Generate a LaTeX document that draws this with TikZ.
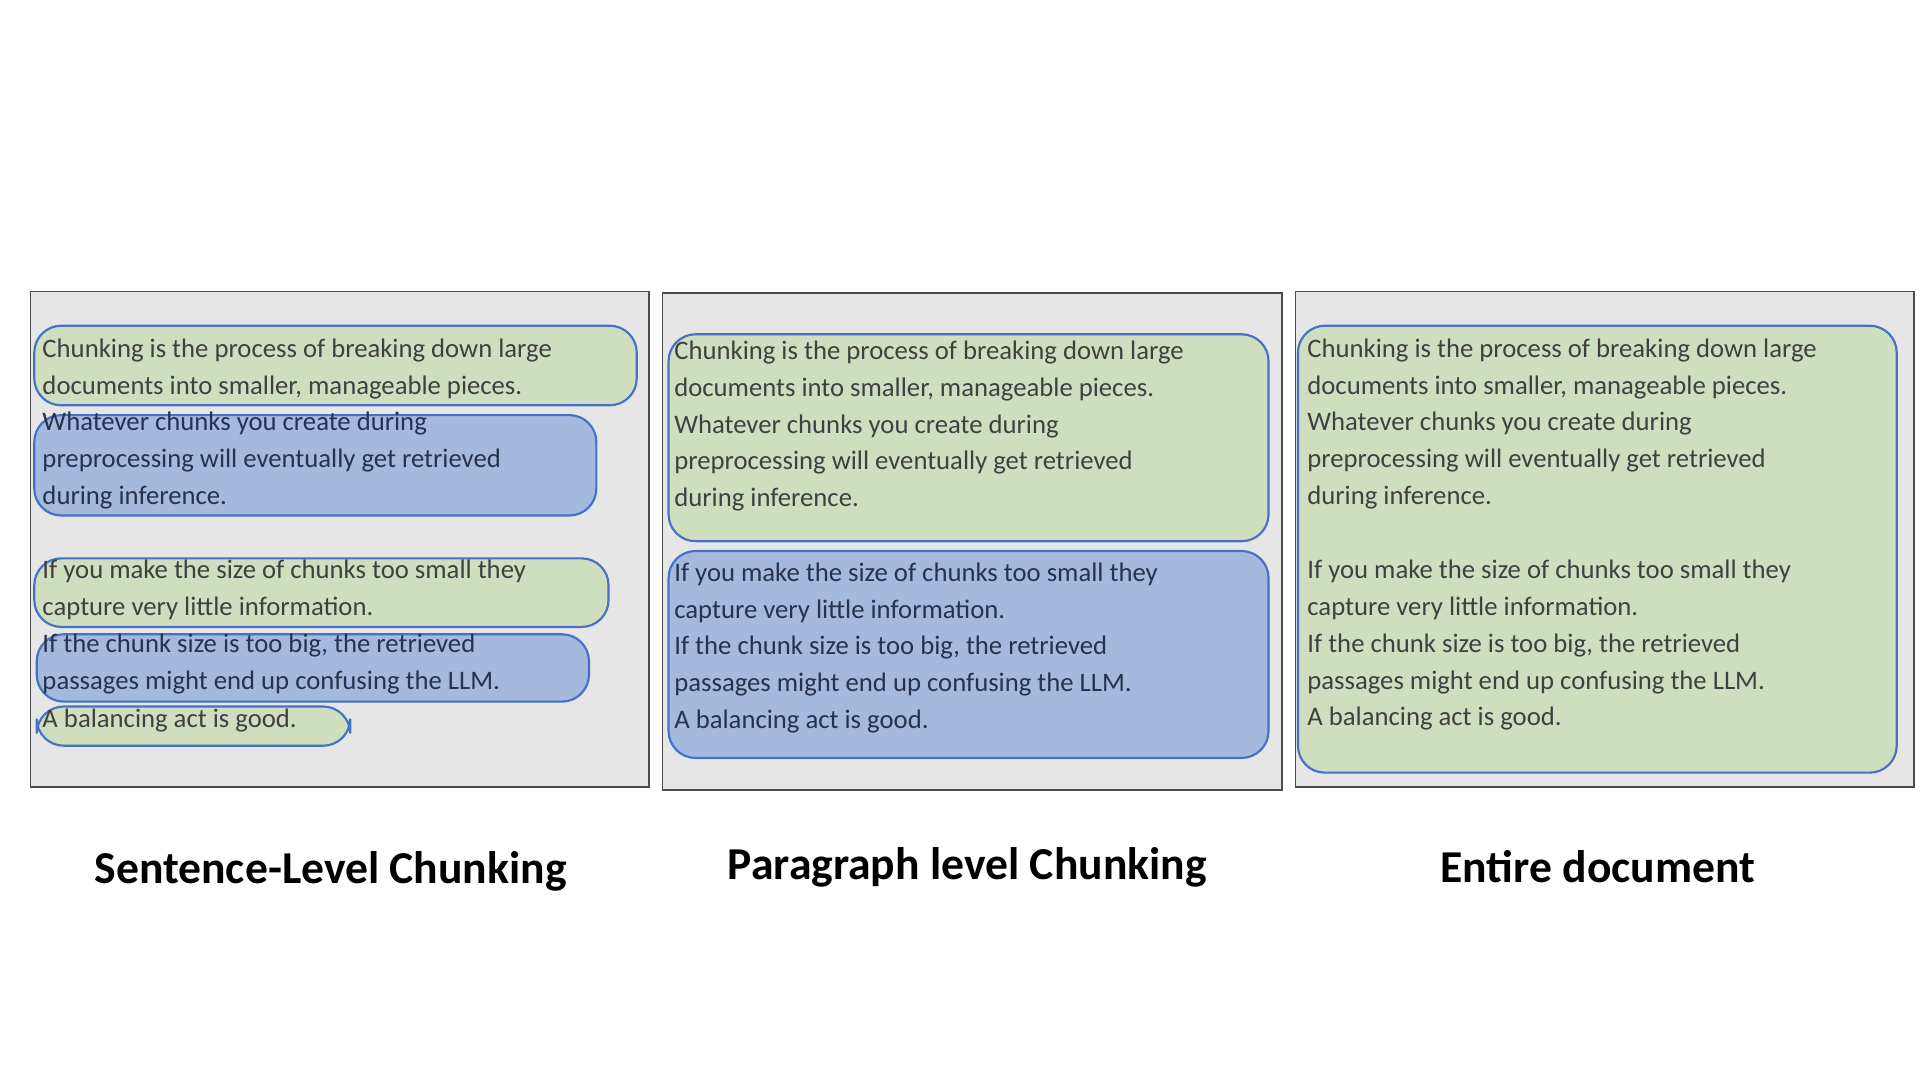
\documentclass[tikz,border=0pt]{standalone}
\usepackage{fontspec}
\setmainfont{Carlito}
\definecolor{bggray}{HTML}{E7E6E6}
\definecolor{gfill}{HTML}{D0DEC0}
\definecolor{bfill}{HTML}{A5B8DD}
\definecolor{bline}{HTML}{4472C4}
\definecolor{txt}{HTML}{404040}
\definecolor{btxt}{HTML}{26324F}
\begin{document}
\begin{tikzpicture}[x=0.01cm,y=-0.01cm,
 panel/.style={draw=black!70,line width=0.4pt,fill=bggray},
 gbox/.style={draw=bline,line width=0.5pt,fill=gfill,rounded corners=2.2mm},
 bbox/.style={draw=bline,line width=0.5pt,fill=bfill,rounded corners=2.2mm},
 para/.style={anchor=north west,inner sep=0pt,align=left,font=\fontsize{6.2}{8.52}\selectfont,text=txt},
 bpara/.style={para,text=btxt},
 ttl/.style={font=\fontsize{10.6}{12}\selectfont\bfseries}]
\fill[white] (0,0) rectangle (1568,882);
\useasboundingbox (0,0) rectangle (1568,882);
% panels
\draw[panel] (25,238) rectangle (530,643);
\draw[panel] (541,239) rectangle (1047,645);
\draw[panel] (1058,238) rectangle (1563,643);
% panel 1
\draw[gbox] (28,266) rectangle (520,331);
\draw[bbox] (28,339) rectangle (487,421);
\draw[gbox] (28,456) rectangle (497,512);
\draw[bbox] (30,518) rectangle (481,573);
\draw[gbox] (30,577) rectangle (286,609);
\node[para] (s1) at (34,276) {Chunking is the process of breaking down large\\documents into smaller, manageable pieces.};
\node[bpara] (s2) at (34,336) {Whatever chunks you create during\\preprocessing will eventually get retrieved\\during inference.};
\node[para] (s3) at (34,457) {If you make the size of chunks too small they\\capture very little information.};
\node[bpara] (s4) at (34,517) {If the chunk size is too big, the retrieved\\passages might end up confusing the LLM.};
\node[para] (s5) at (34,578) {A balancing act is good.};
% panel 2
\draw[gbox] (546,273) rectangle (1036,442);
\draw[bbox] (546,450) rectangle (1036,619);
\node[para] (p1) at (550,278) {Chunking is the process of breaking down large\\documents into smaller, manageable pieces.\\Whatever chunks you create during\\preprocessing will eventually get retrieved\\during inference.};
\node[bpara] (p2) at (550,459) {If you make the size of chunks too small they\\capture very little information.\\If the chunk size is too big, the retrieved\\passages might end up confusing the LLM.\\A balancing act is good.};
% panel 3
\draw[gbox] (1060,266) rectangle (1549,631);
\node[para] (d1) at (1067,276) {Chunking is the process of breaking down large\\documents into smaller, manageable pieces.\\Whatever chunks you create during\\preprocessing will eventually get retrieved\\during inference.};
\node[para] (d2) at (1067,457) {If you make the size of chunks too small they\\capture very little information.\\If the chunk size is too big, the retrieved\\passages might end up confusing the LLM.\\A balancing act is good.};
% titles
\node[ttl] (t1) at (270,712) {Sentence-Level Chunking};
\node[ttl] (t2) at (790,708) {Paragraph level Chunking};
\node[ttl] (t3) at (1305,708) {Entire document};
\end{tikzpicture}
\end{document}
